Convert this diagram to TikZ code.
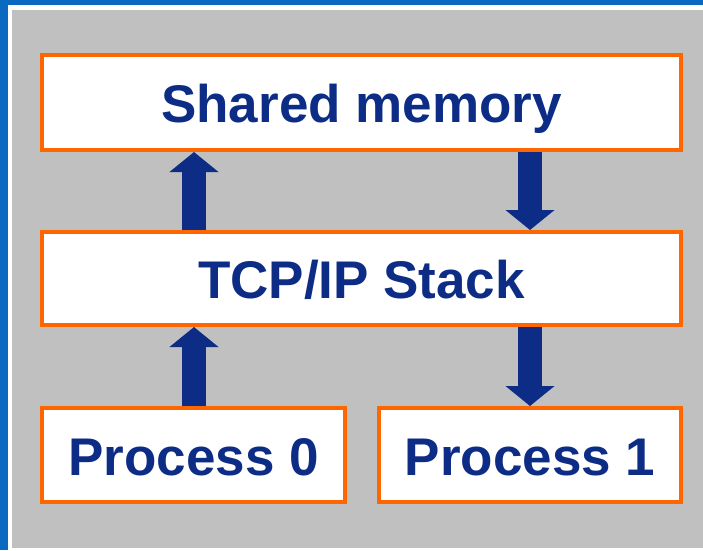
\documentclass[tikz,border=0pt]{standalone}
\usepackage{fontspec}
\setmainfont{Liberation Sans}
\usetikzlibrary{arrows.meta}
\definecolor{frameblue}{HTML}{0A6AC2}
\definecolor{panelgray}{HTML}{C0C0C0}
\definecolor{boxorange}{HTML}{FF6600}
\definecolor{textnavy}{HTML}{0C2C86}
\tikzset{
  layerbox/.style={draw=boxorange, line width=4pt, fill=white, inner sep=0pt,
    text=textnavy, text height=40pt, text depth=0pt,
    font=\fontsize{53}{60}\selectfont\bfseries},
  flowarrow/.style={draw=textnavy, line width=24pt,
    -{Triangle[width=48pt,length=20pt]}}
}
\begin{document}
\begin{tikzpicture}[x=1pt,y=-1pt]
  \useasboundingbox (0,0) rectangle (703,550);
  % page frame: blue bands on top and left, grey panel inside
  \fill[white] (0,0) rectangle (703,550);
  \fill[frameblue] (0,0) rectangle (703,5);
  \fill[frameblue] (0,0) rectangle (8,550);
  \fill[panelgray] (12,10) rectangle (703,548);

  % layers
  \node[layerbox, minimum width=639pt, minimum height=95pt] (shm) at (361.5,102.5) {Shared memory};
  \node[layerbox, minimum width=639pt, minimum height=93pt] (tcp) at (361.5,278.5) {TCP/IP Stack};
  \node[layerbox, minimum width=303pt, minimum height=94pt] (p0) at (193.5,455) {Process 0};
  \node[layerbox, minimum width=302pt, minimum height=94pt] (p1) at (530,455) {Process 1};

  % arrow columns
  \coordinate (upx) at (194,0);
  \coordinate (downx) at (530,0);

  \draw[flowarrow] (tcp.north -| upx) -- (shm.south -| upx);
  \draw[flowarrow] (shm.south -| downx) -- (tcp.north -| downx);
  \draw[flowarrow] (p0.north -| upx) -- (tcp.south -| upx);
  \draw[flowarrow] (tcp.south -| downx) -- (p1.north -| downx);
\end{tikzpicture}
\end{document}
